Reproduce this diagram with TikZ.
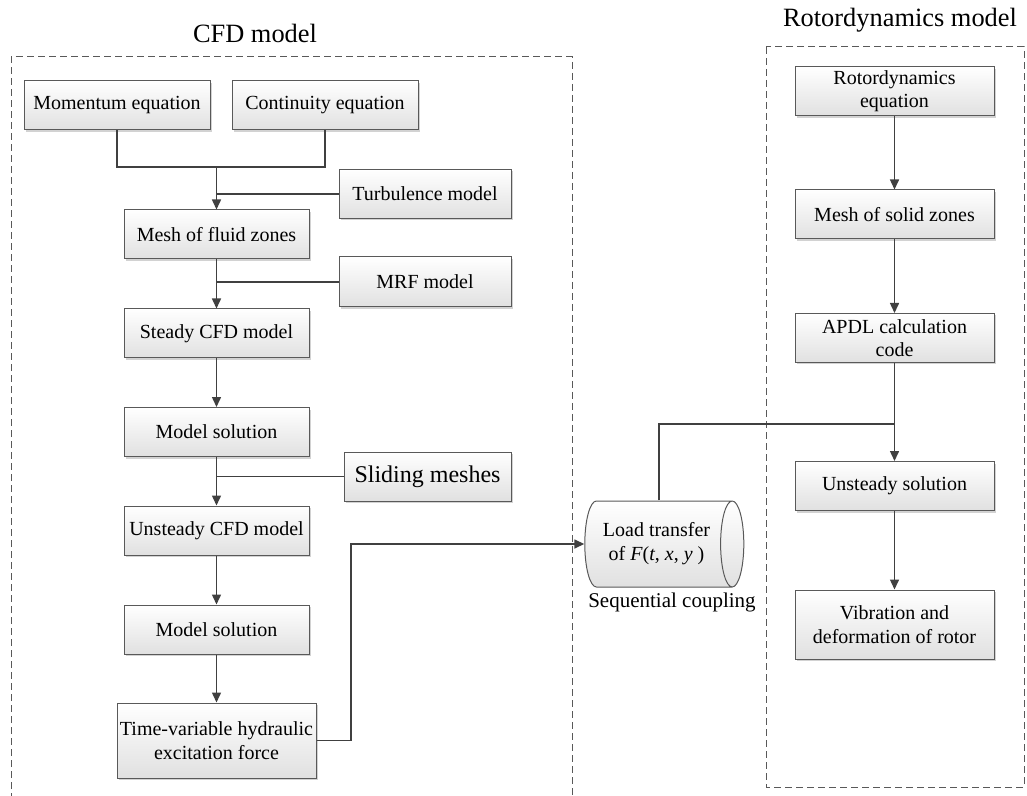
\documentclass[tikz,border=0pt]{standalone}
\usepackage{fontspec}
\setmainfont{Liberation Serif}
\usetikzlibrary{arrows.meta,shapes.geometric,shadows}

\begin{document}
\begin{tikzpicture}[x=0.5pt,y=-0.5pt,
	proc node/.style={rectangle,draw=black!65,line width=0.5pt,top color=white,bottom color=black!12,
		drop shadow={shadow xshift=1pt,shadow yshift=-1pt,fill=black!35,opacity=0.5},
		align=center,inner sep=1pt,font=\fontsize{10}{12}\selectfont,minimum width=92.5pt,minimum height=24.5pt},
	side node/.style={proc node,minimum width=86pt},
	wide node/.style={proc node,minimum width=99.5pt},
	link/.style={draw=black!75,line width=0.75pt},
	flow/.style={link,-{Triangle[length=5pt,width=4.5pt]}},
	group/.style={draw=black!65,dash pattern=on 3.5pt off 2pt,line width=0.5pt}]
		\useasboundingbox (0,0) rectangle (1027,796);
		% dashed groups
		\draw[group] (11,800) -- (11,57) -- (572,57) -- (572,800);
		\draw[group] (766,47) rectangle (1024,787);
		\node[font=\fontsize{13.2}{15}\selectfont] (cfdt) at (255,33) {CFD model};
		\node[font=\fontsize{13.2}{15}\selectfont] (rott) at (900,20) {Rotordynamics model};
		% CFD model
		\node[proc node,minimum width=93pt] (mom) at (117,105.5) {Momentum equation};
		\node[proc node,minimum width=93pt] (cont) at (325,105.5) {Continuity equation};
		\node[side node] (turb) at (425,194) {Turbulence model};
		\node[proc node] (fluid) at (216.5,234.5) {Mesh of fluid zones};
		\node[side node,minimum height=25pt] (mrf) at (425,282) {MRF model};
		\node[proc node] (steady) at (216.5,333.5) {Steady CFD model};
		\node[proc node] (sol1) at (216.5,432) {Model solution};
		\node[side node,minimum width=83.5pt,font=\fontsize{12}{14}\selectfont] (slide) at (427.5,476.5) {Sliding meshes};
		\node[proc node] (unst) at (216.5,530.5) {Unsteady CFD model};
		\node[proc node] (sol2) at (216.5,629.5) {Model solution};
		\node[wide node,minimum height=37.5pt] (force) at (216.5,740.5) {Time-variable hydraulic\\excitation force};
		% rotordynamics model
		\node[wide node,font=\fontsize{10}{11.5}\selectfont] (roteq) at (894.5,91.5) {Rotordynamics\\equation};
		\node[wide node] (solid) at (894.5,214.5) {Mesh of solid zones};
		\node[wide node,font=\fontsize{10}{11.5}\selectfont] (apdl) at (894.5,338) {APDL calculation\\code};
		\node[wide node] (usol) at (894.5,486) {Unsteady solution};
		\node[wide node,minimum height=34.5pt] (vib) at (894.5,624.5) {Vibration and\\deformation of rotor};
		% coupling
		\node[cylinder,draw=black!65,line width=0.5pt,shape aspect=0.5,minimum height=79.5pt,minimum width=43pt,
			top color=white,bottom color=black!12,align=center,inner sep=1pt,font=\fontsize{10}{12}\selectfont] (load) at (656.5,544)
			{Load transfer\\of \textit{F}(\textit{t}, \textit{x}, \textit{y} )};
		\node[font=\fontsize{10.5}{12}\selectfont] (seq) at (672,602) {Sequential coupling};
		% connectors
		\coordinate (j1) at (216.5,167);
		\coordinate (j2) at (351,544);
		\coordinate (j3) at (894.5,424);
		\draw[link] (mom.south) |- (j1) -| (cont.south);
		\draw[link] (turb.west) -- (turb.west -| fluid.north);
		\draw[link] (mrf.west) -- (mrf.west -| fluid.south);
		\draw[link] (slide.west) -- (slide.west -| sol1.south);
		\draw[link] ([xshift=1.25pt]load.north) |- (j3);
		\path[every edge/.style={flow}] (j1) edge (fluid.north)
			(fluid) edge (steady)
			(steady) edge (sol1)
			(sol1) edge (unst)
			(unst) edge (sol2)
			(sol2) edge (force)
			(roteq) edge (solid)
			(solid) edge (apdl)
			(apdl) edge (usol)
			(usol) edge (vib);
		\draw[flow] (force.east) -| (j2) -- (load.west);
\end{tikzpicture}
\end{document}
